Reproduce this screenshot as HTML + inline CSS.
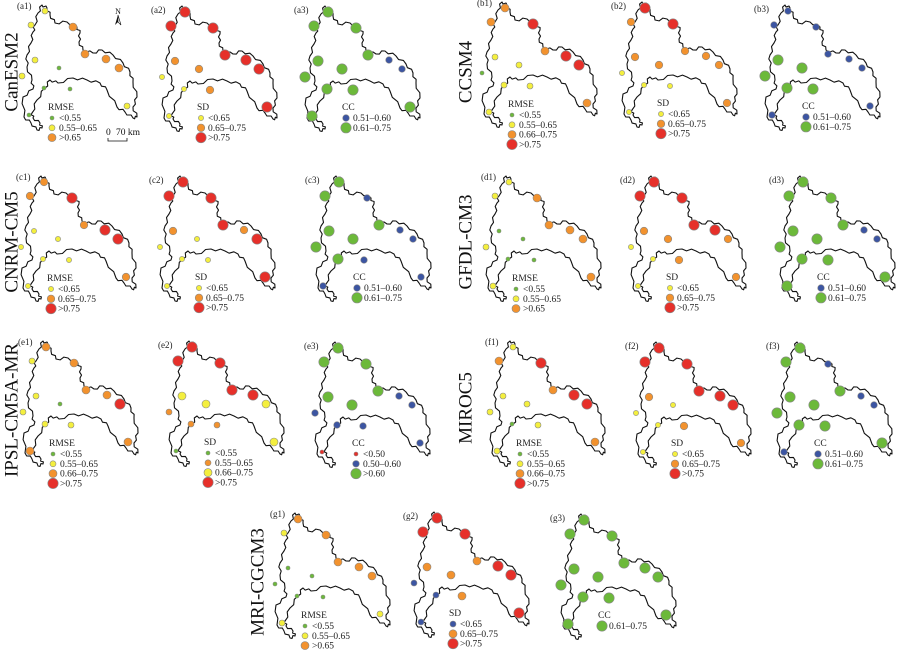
<!DOCTYPE html>
<html><head><meta charset="utf-8">
<style>
html,body{margin:0;padding:0;background:#fff;}
svg{display:block;font-family:"Liberation Serif",serif;}
</style></head>
<body>
<svg id="fig" width="900" height="659" viewBox="0 0 900 659"></svg>
<script>
// Station positions relative to the top station (data-independent geometry)
const stationDx=[0,-14,28,-10,-23,14,40,61,74,-1,25,82,-16];
const stationDy=[0,14,16,49,65,57,43,48,57,77,78,95,104];

const panelIds=["a1","a2","a3","b1","b2","b3","c1","c2","c3","d1","d2","d3","e1","e2","e3","f1","f2","f3","g1","g2","g3"];
const panelLegendType=["rmse3","sd3","cc2","rmse4","sd3","cc2","sd3rm","sd3","cc2","rmse3","sd3","cc2","rmse4","sd4","cc3","rmse4","sd3","cc2","rmse3","sdg","cc1"];

// Values per panel (13 stations)
const vA1=[.6,.6,.7,.6,.6,.5,.7,.7,.7,.5,.5,.6,.5];
const vA2=[.8,.8,.8,.7,.6,.7,.8,.8,.8,.6,.7,.8,.6];
const vA3=[.68,.68,.68,.68,.68,.68,.68,.56,.56,.68,.68,.68,.68];
const vB1=[.7,.7,.8,.6,.5,.6,.7,.8,.8,.6,.6,.7,.6];
const vB2=[.8,.7,.8,.7,.6,.7,.7,.7,.7,.6,.6,.7,.6];
const vB3=[.56,.56,.56,.68,.68,.68,.56,.56,.56,.68,.68,.56,.56];
const vC1=[.7,.7,.8,.6,.6,.6,.7,.8,.8,.6,.6,.7,.6];
const vC2=[.8,.8,.8,.7,.6,.6,.8,.7,.8,.6,.6,.8,.6];
const vC3=[.68,.68,.56,.68,.68,.68,.68,.56,.56,.68,.56,.56,.56];
const vD1=[.6,.6,.7,.5,.6,.5,.7,.7,.7,.5,.5,.7,.6];
const vD2=[.8,.8,.8,.7,.6,.7,.8,.8,.7,.6,.7,.7,.6];
const vD3=[.68,.68,.68,.68,.68,.68,.68,.56,.56,.68,.68,.68,.68];
const vE1=[.7,.6,.7,.6,.6,.5,.7,.7,.8,.6,.6,.7,.7];
const vE2=[.8,.8,.8,.7,.6,.7,.8,.8,.7,.6,.6,.7,.5];
const vE3=[.68,.68,.68,.68,.55,.68,.68,.55,.55,.55,.55,.55,.45];
const vF1=[.6,.7,.8,.6,.6,.6,.7,.8,.8,.5,.6,.7,.6];
const vF2=[.8,.8,.8,.7,.6,.6,.8,.8,.8,.6,.7,.7,.6];
const vF3=[.68,.68,.56,.68,.68,.68,.68,.56,.56,.68,.68,.68,.56];
const vG1=[.7,.6,.7,.5,.5,.5,.7,.7,.7,.5,.5,.6,.6];
const vG2=[.8,.8,.8,.7,.6,.7,.7,.8,.8,.6,.7,.8,.6];
const vG3=[.68,.68,.68,.68,.68,.68,.68,.68,.68,.68,.68,.68,.68];
const panelValues=[vA1,vA2,vA3,vB1,vB2,vB3,vC1,vC2,vC3,vD1,vD2,vD3,vE1,vE2,vE3,vF1,vF2,vF3,vG1,vG2,vG3];

const modelNames=["CanESM2","CCSM4","CNRM-CM5","GFDL-CM3","IPSL-CM5A-MR","MIROC5","MRI-CGCM3"];

// Layout (not data)
const anchors=[[45,11],[185,12],[328,12],[505,8],[645,8],[788,11],
[44,182],[183,182],[339,182],[509,182],[654,182],[803,182],
[46,347],[192,347],[338,348],[513,347],[659,348],[800,348],
[298,519],[437,518],[584,520]];
const modelLabelPos=[[13,72],[467,72],[13,242],[467,242],[13,410],[467,408],[259,582]];

const C={G:"#6cb93a",Y:"#f4ef3e",O:"#f2922e",R:"#e6302a",B:"#3c55a2"};
const legends={
 rmse3:{title:"RMSE",thr:[0.55,0.65],cls:[["<0.55",C.G,2],["0.55\u20130.65",C.Y,3],[">0.65",C.O,4]]},
 rmse4:{title:"RMSE",thr:[0.55,0.655,0.755],cls:[["<0.55",C.G,2],["0.55\u20130.65",C.Y,3],["0.66\u20130.75",C.O,4],[">0.75",C.R,5.2]]},
 sd3:{title:"SD",thr:[0.65,0.755],cls:[["<0.65",C.Y,2.6],["0.65\u20130.75",C.O,3.8],[">0.75",C.R,5.2]]},
 sd3rm:{title:"RMSE",thr:[0.65,0.755],cls:[["<0.65",C.Y,2.6],["0.65\u20130.75",C.O,3.8],[">0.75",C.R,5.2]]},
 sd4:{title:"SD",thr:[0.55,0.655,0.755],cls:[["<0.55",C.G,2],["0.55\u20130.65",C.O,3],["0.66\u20130.75",C.Y,4],[">0.75",C.R,5.2]]},
 sdg:{title:"SD",thr:[0.65,0.755],cls:[["<0.65",C.B,3],["0.65\u20130.75",C.O,4],[">0.75",C.R,5.2]]},
 cc2:{title:"CC",thr:[0.605],cls:[["0.51\u20130.60",C.B,3.3],["0.61\u20130.75",C.G,5.2]]},
 cc3:{title:"CC",thr:[0.50,0.605],cls:[["<0.50",C.R,2],["0.50\u20130.60",C.B,3.3],[">0.60",C.G,5.2]]},
 cc1:{title:"CC",thr:[],cls:[["0.61\u20130.75",C.G,5.2]]}
};
const outline=[[-3,-6],[2,-3],[5,4],[10,12],[22,11],[32,16],[35,22],[34,31],[38,39],[48,42],[57,39],[68,44],[78,52],[85,61],[88,71],[92,86],[88,96],[92,106],[88,107],[80,101],[72,96],[62,79],[55,72],[42,69],[28,67],[13,72],[5,69],[0,77],[-8,89],[-13,102],[-12,107],[-5,112],[-3,117],[-8,119],[-14,112],[-21,106],[-22,86],[-12,78],[-13,69],[-18,56],[-18,44],[-14,32],[-12,21],[-10,14],[-7,2]];

const NS="http://www.w3.org/2000/svg";
const svg=document.getElementById("fig");
function mk(tag,attrs,parent){const e=document.createElementNS(NS,tag);for(const k in attrs)e.setAttribute(k,attrs[k]);(parent||svg).appendChild(e);return e;}
function classify(v,thr){let i=0;while(i<thr.length&&v>=thr[i])i++;return i;}

function jag(pts){let out=[];for(let i=0;i<pts.length;i++){const a=pts[i],b=pts[(i+1)%pts.length];out.push(a);const n=3;for(let k=1;k<n;k++){const t=k/n;const px=a[0]+(b[0]-a[0])*t,py=a[1]+(b[1]-a[1])*t;const o=(k%2?1.2:-1.2);const dx=b[0]-a[0],dy=b[1]-a[1],L=Math.hypot(dx,dy)||1;out.push([px-dy/L*o,py+dx/L*o]);}}return out;}
const jagged=jag(outline);

panelIds.forEach((id,p)=>{
  const [ax,ay]=anchors[p];
  const col=p%3;
  const g=mk("g",{});
  
  
  const path=mk("path",{d:"M"+jagged.map(q=>(ax+q[0]).toFixed(1)+","+(ay+q[1]).toFixed(1)).join("L")+"Z",fill:"none",stroke:"#111","stroke-width":"1.1","stroke-linejoin":"round"},g);
  
  
  const lb=col===0?[-28,-5]:[-34,-2];
  const t=mk("text",{x:ax+lb[0],y:ay+lb[1]+3,"font-size":"9",fill:"#222"},g);
  t.textContent="("+id+")";
  
  
  const L=legends[panelLegendType[p]];
  const vals=panelValues[p];
  vals.forEach((v,s)=>{
    const c=L.cls[classify(v,L.thr)];
    const dot=mk("circle",{cx:ax+stationDx[s],cy:ay+stationDy[s],r:c[2],fill:c[1],stroke:"#888","stroke-width":"0.6"},g);
    
    
  });
  const lx=ax+(col===0?3:col===1?12:14), ly=ay+(col===0?96:95);
  const lg=mk("g",{},g);
  
  
  const tt=mk("text",{x:lx,y:ly+3,"font-size":"9.5",fill:"#222"},lg);
  tt.textContent=L.title;
  
  
  L.cls.forEach((c,i)=>{
    const yy=ly+11+i*9.8;
    const cc=mk("circle",{cx:lx+4,cy:yy,r:c[2],fill:c[1],stroke:"#888","stroke-width":"0.6"},lg);
    
    
    const te=mk("text",{x:lx+11,y:yy+3,"font-size":"9.5",fill:"#222"},lg);
    te.textContent=c[0];
    
    
  });
});

modelNames.forEach((n,i)=>{
  const [x,y]=modelLabelPos[i];
  const t=mk("text",{x:x,y:y,"font-size":"19","text-anchor":"middle",transform:"rotate(-90 "+x+" "+y+")",fill:"#111","dominant-baseline":"middle"});
  t.textContent=n;
  
  
});

const na=mk("g",{});


const nt=mk("text",{x:118,y:14,"font-size":"8","text-anchor":"middle",fill:"#111"},na);
nt.textContent="N";
mk("path",{d:"M118,15 L115,25 L118,22 Z",fill:"#111"},na);
mk("path",{d:"M118,15 L121,25 L118,22 Z",fill:"none",stroke:"#111","stroke-width":"0.6"},na);
const sb=mk("g",{});


const st0=mk("text",{x:106,y:135,"font-size":"9.5",fill:"#111"},sb);
st0.textContent="0";
const st1=mk("text",{x:116,y:135,"font-size":"9.5",fill:"#111"},sb);
st1.textContent="70 km";
mk("path",{d:"M108,138 L108,141 L127,141 L127,138",fill:"none",stroke:"#111","stroke-width":"0.8"},sb);
</script>
</body></html>
